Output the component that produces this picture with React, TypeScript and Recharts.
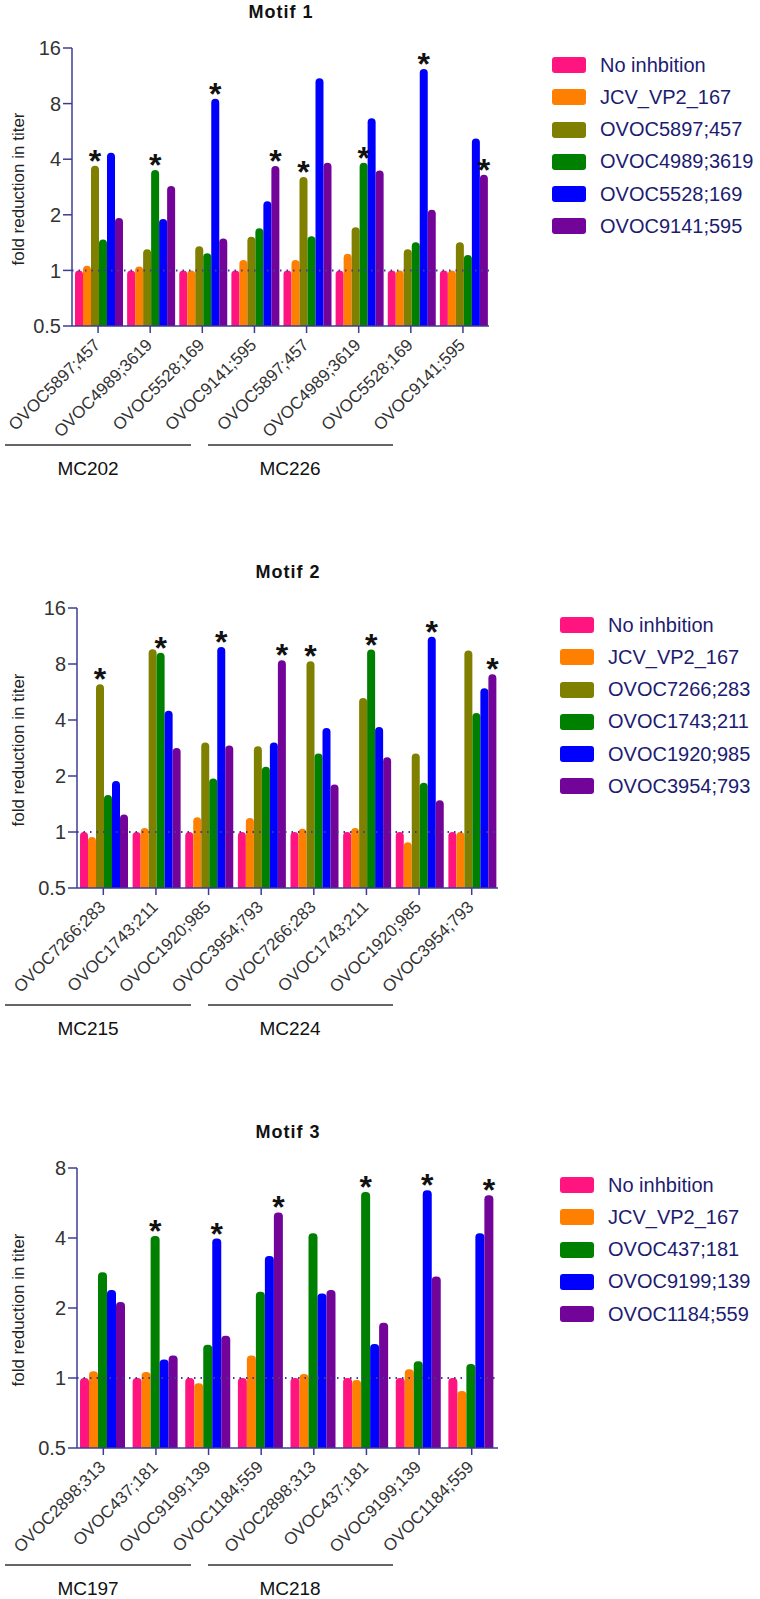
import { Bar, BarChart, ReferenceLine, XAxis, YAxis } from 'recharts';

const FONT = '"Liberation Sans", Arial, sans-serif';
const AXIS_BLUE = '#3c3c94';
const LEGEND_NAVY = '#1c1c70';
const TEXT_GRAY = '#333333';

const PINK = '#ff1480';
const ORANGE = '#ff8000';
const OLIVE = '#808000';
const GREEN = '#008000';
const BLUE = '#0000ff';
const PURPLE = '#72049a';

// Motif 1
const motif1Categories = [
  'OVOC5897;457', 'OVOC4989;3619', 'OVOC5528;169', 'OVOC9141;595',
  'OVOC5897;457', 'OVOC4989;3619', 'OVOC5528;169', 'OVOC9141;595',
];
const motif1Groups = ['MC202', 'MC226'];
const motif1Series = ['No inhbition', 'JCV_VP2_167', 'OVOC5897;457', 'OVOC4989;3619', 'OVOC5528;169', 'OVOC9141;595'];
const motif1Colors = [PINK, ORANGE, OLIVE, GREEN, BLUE, PURPLE];
const motif1NoInhibition = [1, 1, 1, 1, 1, 1, 1, 1];
const motif1Jcv = [1.06, 1.05, 1.0, 1.14, 1.14, 1.23, 1.0, 1.0];
const motif1Ovoc5897 = [3.69, 1.3, 1.35, 1.52, 3.2, 1.71, 1.3, 1.42];
const motif1Ovoc4989 = [1.47, 3.5, 1.24, 1.69, 1.53, 3.83, 1.42, 1.21];
const motif1Ovoc5528 = [4.33, 1.9, 8.5, 2.37, 10.96, 6.66, 12.3, 5.17];
const motif1Ovoc9141 = [1.92, 2.86, 1.49, 3.67, 3.83, 3.47, 2.13, 3.3];
const motif1Ticks = [0.5, 1, 2, 4, 8, 16];

// Motif 2
const motif2Categories = [
  'OVOC7266;283', 'OVOC1743;211', 'OVOC1920;985', 'OVOC3954;793',
  'OVOC7266;283', 'OVOC1743;211', 'OVOC1920;985', 'OVOC3954;793',
];
const motif2Groups = ['MC215', 'MC224'];
const motif2Series = ['No inhbition', 'JCV_VP2_167', 'OVOC7266;283', 'OVOC1743;211', 'OVOC1920;985', 'OVOC3954;793'];
const motif2Colors = [PINK, ORANGE, OLIVE, GREEN, BLUE, PURPLE];
const motif2NoInhibition = [1, 1, 1, 1, 1, 1, 1, 1];
const motif2Jcv = [0.94, 1.05, 1.2, 1.19, 1.04, 1.05, 0.88, 1.0];
const motif2Ovoc7266 = [6.22, 9.6, 3.03, 2.89, 8.27, 5.25, 2.64, 9.45];
const motif2Ovoc1743 = [1.58, 9.2, 1.94, 2.24, 2.64, 9.56, 1.84, 4.36];
const motif2Ovoc1920 = [1.88, 4.49, 9.87, 3.03, 3.62, 3.67, 11.2, 5.92];
const motif2Ovoc3954 = [1.24, 2.83, 2.92, 8.38, 1.8, 2.52, 1.48, 7.04];
const motif2Ticks = [0.5, 1, 2, 4, 8, 16];

// Motif 3
const motif3Categories = [
  'OVOC2898;313', 'OVOC437;181', 'OVOC9199;139', 'OVOC1184;559',
  'OVOC2898;313', 'OVOC437;181', 'OVOC9199;139', 'OVOC1184;559',
];
const motif3Groups = ['MC197', 'MC218'];
const motif3Series = ['No inhbition', 'JCV_VP2_167', 'OVOC437;181', 'OVOC9199;139', 'OVOC1184;559'];
const motif3Colors = [PINK, ORANGE, GREEN, BLUE, PURPLE];
const motif3NoInhibition = [1, 1, 1, 1, 1, 1, 1, 1];
const motif3Jcv = [1.07, 1.06, 0.95, 1.25, 1.04, 0.98, 1.09, 0.88];
const motif3Ovoc437 = [2.85, 4.08, 1.39, 2.35, 4.19, 6.31, 1.18, 1.15];
const motif3Ovoc9199 = [2.39, 1.2, 3.98, 3.35, 2.31, 1.4, 6.42, 4.19];
const motif3Ovoc1184 = [2.12, 1.25, 1.52, 5.15, 2.39, 1.73, 2.73, 6.11];
const motif3Ticks = [0.5, 1, 2, 4, 8];

const PANEL_HEIGHT = 560;
const PLOT_TOP = 48;
const Y_AXIS_WIDTH = 60;
const X_AXIS_HEIGHT = 100;

interface PanelProps {
  top: number;
  title: string;
  categories: string[];
  groups: string[];
  series: string[];
  colors: string[];
  values: number[][];
  ticks: number[];
  plotLeft: number;
  plotRight: number;
  plotBottom: number;
  titleX: number;
  legendLeft: number;
}

function RotatedTick(props: any) {
  const { x, y, payload } = props;
  return (
    <text
      transform={`translate(${x + 3},${y + 11}) rotate(-45)`}
      textAnchor="end"
      fontSize={17}
      fontFamily={FONT}
      fill={TEXT_GRAY}
    >
      {payload.value}
    </text>
  );
}

function Panel({
  top, title, categories, groups, series, colors, values, ticks,
  plotLeft, plotRight, plotBottom, titleX, legendLeft,
}: PanelProps) {
  const data = categories.map((name, i) => {
    const row: Record<string, string | number> = { name };
    values.forEach((vals, s) => {
      row[`s${s}`] = vals[i];
    });
    return row;
  });

  const renderStar = (seriesName: string) => (props: any) => {
    const { x, y, width, index } = props;
    if (categories[index] !== seriesName) return <g />;
    return (
      <text x={x + width / 2} y={y + 6} textAnchor="middle" fontSize={32} fontWeight="bold" fontFamily={FONT} fill="#111">
        *
      </text>
    );
  };

  return (
    <div style={{ position: 'absolute', left: 0, top, width: 760, height: PANEL_HEIGHT }}>
      <BarChart
        width={760}
        height={PANEL_HEIGHT}
        data={data}
        margin={{
          top: PLOT_TOP,
          left: plotLeft - Y_AXIS_WIDTH,
          right: 760 - plotRight,
          bottom: PANEL_HEIGHT - plotBottom - X_AXIS_HEIGHT,
        }}
        barCategoryGap={3}
        barGap={0}
      >
        <XAxis
          dataKey="name"
          interval={0}
          height={X_AXIS_HEIGHT}
          tick={<RotatedTick />}
          tickSize={7}
          tickMargin={2}
          axisLine={{ stroke: AXIS_BLUE, strokeWidth: 1.5 }}
          tickLine={{ stroke: AXIS_BLUE, strokeWidth: 1.5 }}
        />
        <YAxis
          scale="log"
          type="number"
          domain={[ticks[0], ticks[ticks.length - 1]]}
          ticks={ticks}
          allowDataOverflow
          width={Y_AXIS_WIDTH}
          tickSize={9}
          tickMargin={2}
          tick={{ fontSize: 20, fill: TEXT_GRAY, fontFamily: FONT }}
          axisLine={{ stroke: AXIS_BLUE, strokeWidth: 1.5 }}
          tickLine={{ stroke: AXIS_BLUE, strokeWidth: 1.5 }}
        />
        <ReferenceLine y={1} stroke={AXIS_BLUE} strokeWidth={2} strokeDasharray="1.5 5" />
        {series.map((name, s) => (
          <Bar
            key={name}
            dataKey={`s${s}`}
            name={name}
            fill={colors[s]}
            radius={[4, 4, 0, 0]}
            isAnimationActive={false}
            label={renderStar(name)}
          />
        ))}
      </BarChart>

      <svg width={760} height={PANEL_HEIGHT} style={{ position: 'absolute', left: 0, top: 0, pointerEvents: 'none' }}>
        <text x={titleX} y={18} textAnchor="middle" fontSize={18} fontWeight="bold" letterSpacing={1} fontFamily={FONT} fill="#111">
          {title}
        </text>
        <text
          transform={`translate(24,${(PLOT_TOP + plotBottom) / 2 + 2}) rotate(-90)`}
          textAnchor="middle"
          fontSize={17}
          fontFamily={FONT}
          fill="#222"
        >
          fold reduction in titer
        </text>
        {groups.map((g, i) => (
          <g key={g}>
            <line x1={5 + i * 203} x2={191 + i * 202} y1={445} y2={445} stroke="#333" strokeWidth={1.3} />
            <text x={88 + i * 202} y={475} textAnchor="middle" fontSize={19} fontFamily={FONT} fill="#111">
              {g}
            </text>
          </g>
        ))}
      </svg>

      <div style={{ position: 'absolute', left: legendLeft, top: 65 - 8, fontFamily: FONT }}>
        {series.map((name, s) => (
          <div key={name} style={{ display: 'flex', alignItems: 'center', height: 16, marginBottom: 16.3 }}>
            <div style={{ width: 34, height: 16, borderRadius: 3, background: colors[s] }} />
            <span style={{ marginLeft: 14, fontSize: 20, color: LEGEND_NAVY, whiteSpace: 'nowrap' }}>{name}</span>
          </div>
        ))}
      </div>
    </div>
  );
}

export default function App() {
  return (
    <div style={{ position: 'relative', width: 760, height: 1599, overflow: 'hidden', background: '#fff' }}>
      <style>{'body{margin:0;overflow:hidden;}'}</style>
      <Panel
        top={0}
        title="Motif 1"
        categories={motif1Categories}
        groups={motif1Groups}
        series={motif1Series}
        colors={motif1Colors}
        values={[motif1NoInhibition, motif1Jcv, motif1Ovoc5897, motif1Ovoc4989, motif1Ovoc5528, motif1Ovoc9141]}
        ticks={motif1Ticks}
        plotLeft={72}
        plotRight={489}
        plotBottom={326}
        titleX={281}
        legendLeft={552}
      />
      <Panel
        top={560}
        title="Motif 2"
        categories={motif2Categories}
        groups={motif2Groups}
        series={motif2Series}
        colors={motif2Colors}
        values={[motif2NoInhibition, motif2Jcv, motif2Ovoc7266, motif2Ovoc1743, motif2Ovoc1920, motif2Ovoc3954]}
        ticks={motif2Ticks}
        plotLeft={77}
        plotRight={498}
        plotBottom={328}
        titleX={288}
        legendLeft={560}
      />
      <Panel
        top={1120}
        title="Motif 3"
        categories={motif3Categories}
        groups={motif3Groups}
        series={motif3Series}
        colors={motif3Colors}
        values={[motif3NoInhibition, motif3Jcv, motif3Ovoc437, motif3Ovoc9199, motif3Ovoc1184]}
        ticks={motif3Ticks}
        plotLeft={77}
        plotRight={498}
        plotBottom={328}
        titleX={288}
        legendLeft={560}
      />
    </div>
  );
}
